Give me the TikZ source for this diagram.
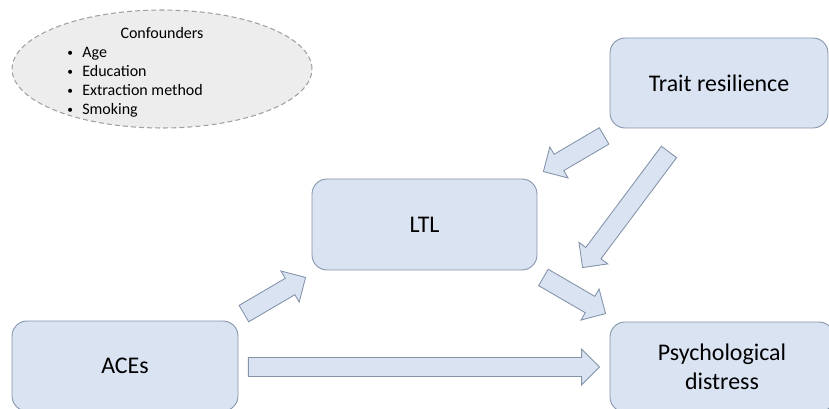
\documentclass[tikz,border=0pt]{standalone}
\usepackage{fontspec}
\setmainfont{Carlito}
\usetikzlibrary{calc, shapes.geometric}

\definecolor{boxfill}{RGB}{218,227,242}
\definecolor{boxline}{RGB}{132,148,170}
\definecolor{ovalfill}{RGB}{237,237,237}
\definecolor{ovalline}{RGB}{160,160,160}

\newcommand{\confbullet}{\makebox[0.36cm][l]{\hspace{0.06cm}\raisebox{0.6pt}{\fontsize{6.5}{6}\selectfont\textbullet}}}

\begin{document}
\begin{tikzpicture}[x=0.02cm, y=-0.02cm]
	\tikzset{
		factor/.style={draw=boxline, fill=boxfill, line width=0.5pt, rounded corners=0.3cm, align=center, inner sep=0pt, font=\fontsize{13.6}{16.5}\selectfont},
		confoval/.style={ellipse, draw=ovalline, fill=ovalfill, line width=0.6pt, dash pattern=on 2.8pt off 1.8pt, minimum width=6cm, minimum height=2.36cm, inner sep=0pt},
		conftext/.style={inner sep=0pt, font=\fontsize{9.1}{11}\selectfont},
		blockarrow/.style={draw=boxline, fill=boxfill, line width=0.5pt, line join=miter, to path={
			let \p1=(\tikztostart), \p2=(\tikztotarget) in
			($(\p1)!0.19cm!90:(\p2)$) -- ($(\p2)!0.36cm!(\p1)!0.19cm!-90:(\p1)$) -- ($(\p2)!0.36cm!(\p1)!0.36cm!-90:(\p1)$) -- (\p2)
			-- ($(\p2)!0.36cm!(\p1)!0.36cm!90:(\p1)$) -- ($(\p2)!0.36cm!(\p1)!0.19cm!90:(\p1)$) -- ($(\p1)!0.19cm!-90:(\p2)$) -- cycle}}
	}
	\useasboundingbox (0,0) rectangle (829,409);

	\node[confoval] (conf) at (162,69) {};
	\node[conftext, anchor=base] (confhead) at (162,38) {Confounders};
	\foreach \conf [count=\i] in {Age, Education, Extraction method, Smoking} {
		\node[conftext, anchor=base west] (conf\i) at (64,38.5+19*\i) {\confbullet\conf};
	}

	\node[factor, minimum width=4.36cm, minimum height=1.8cm] (trait) at (719,83) {Trait resilience};
	\node[factor, minimum width=4.5cm, minimum height=1.82cm] (ltl) at (424.5,224.5) {LTL};
	\node[factor, minimum width=4.52cm, minimum height=1.8cm] (aces) at (125,366) {ACEs};
	\node[factor, minimum width=4.48cm, minimum height=1.8cm] (psych) at (722,367) {Psychological\\distress};

	\draw[blockarrow] ([shift={(5.5,-7)}]aces.north east) to ([shift={(-6,7)}]ltl.south west);
	\draw[blockarrow] ([shift={(6,7)}]ltl.south east) to ([shift={(-4,-8)}]psych.north west);
	\draw[blockarrow] ([shift={(10,1)}]aces.east) to ([shift={(-10,0)}]psych.west);
	\draw[blockarrow] ([shift={(-5.5,7.5)}]trait.south west) to ([shift={(6,-7)}]ltl.north east);
	\draw[blockarrow] ([shift={(-50,23.5)}]trait.south) to ([shift={(-27,-54)}]psych.north west);
\end{tikzpicture}
\end{document}
